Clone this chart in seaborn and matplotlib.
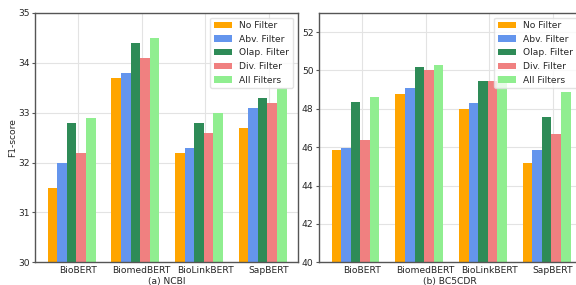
import seaborn as sns
import numpy as np
import pandas as pd
import matplotlib.pyplot as plt

models = ['BioBERT', 'BiomedBERT', 'BioLinkBERT', 'SapBERT']
filters = ['No Filter', 'Abv. Filter', 'Olap. Filter', 'Div. Filter', 'All Filters']
colors = ['orange', 'cornflowerblue', 'seagreen', 'lightcoral', 'lightgreen']

# rows = filter, cols = model
ncbi = [[31.5, 33.7, 32.2, 32.7],
        [32.0, 33.8, 32.3, 33.1],
        [32.8, 34.4, 32.8, 33.3],
        [32.2, 34.1, 32.6, 33.2],
        [32.9, 34.5, 33.0, 33.5]]
bc5cdr = [[45.83, 48.8, 48.0, 45.2],
          [45.95, 49.1, 48.33, 45.85],
          [48.38, 50.2, 49.43, 47.6],
          [46.4, 50.0, 49.43, 46.7],
          [48.6, 50.3, 49.7, 48.9]]


def to_frame(values):
    rows = []
    for f, vals in zip(filters, values):
        for m, v in zip(models, vals):
            rows.append({'model': m, 'filter': f, 'score': v})
    return pd.DataFrame(rows)


sns.set_style("ticks")
plt.rcParams['font.family'] = ['DejaVu Sans']
plt.rcParams['font.size'] = 6.6

fig = plt.figure(figsize=(5.76, 2.85), dpi=100)
ax1 = fig.add_axes([0.0608, 0.0796, 0.456, 0.875])
ax2 = fig.add_axes([0.5538, 0.0796, 0.456, 0.875])

panels = [(ax1, ncbi, (30, 35), '(a) NCBI'), (ax2, bc5cdr, (40, 53), '(b) BC5CDR')]
for ax, values, ylim, xlabel in panels:
    sns.barplot(data=to_frame(values), x='model', y='score', hue='filter',
                palette=colors, width=0.75, saturation=1, linewidth=0,
                ax=ax, zorder=2)
    ax.set_xlim(-0.575, 3.55)
    ax.set_ylim(*ylim)
    ax.set_xticks(np.arange(len(models)) + 0.1)
    ax.set_xticklabels(models)
    ax.tick_params(axis='x', length=0, pad=3, labelsize=6.6)
    ax.tick_params(axis='y', length=2.5, pad=1.5, labelsize=6.6, color='#555555')
    ax.grid(True, color='#e3e3e3', linewidth=0.8, zorder=0)
    ax.set_axisbelow(True)
    ax.set_xlabel(xlabel, fontsize=6.6, labelpad=1)
    ax.set_ylabel('')
    for s in ax.spines.values():
        s.set_color('#555555')
        s.set_linewidth(1.0)
    sns.move_legend(ax, 'upper right', title=None, fontsize=6.6,
                    frameon=True, framealpha=0.8, edgecolor='#dddddd')

ax1.set_yticks(range(30, 36))
ax2.set_yticks(range(40, 53, 2))
ax1.set_ylabel('F1-score', fontsize=6.6, labelpad=0.5)

fig.savefig('out.png', dpi=100)
